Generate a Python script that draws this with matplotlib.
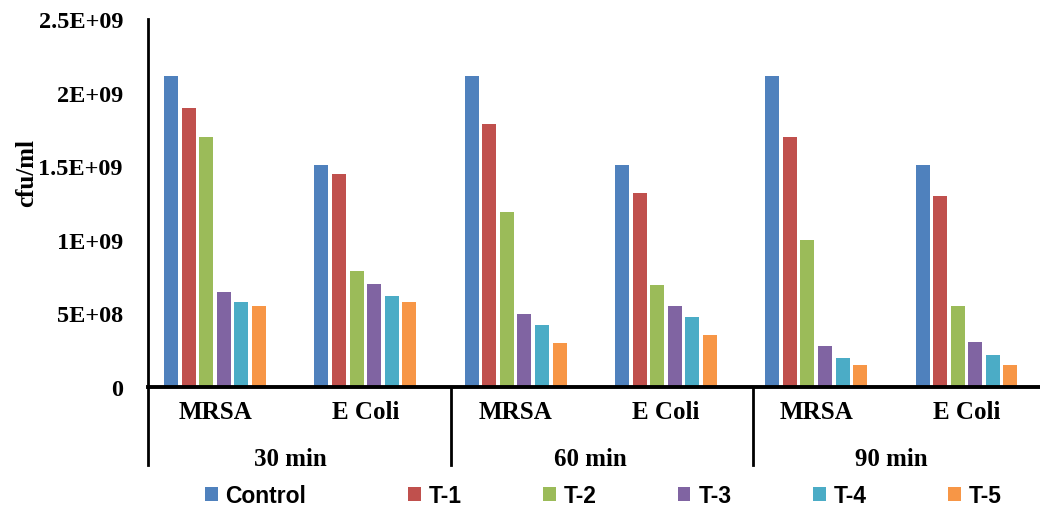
import matplotlib
matplotlib.use("Agg")
import matplotlib.pyplot as plt
import numpy as np
from matplotlib.transforms import blended_transform_factory
from matplotlib.lines import Line2D
from matplotlib.patches import Patch

categories = ["MRSA", "E Coli", "MRSA", "E Coli", "MRSA", "E Coli"]
groups = ["30 min", "60 min", "90 min"]
series_names = ["Control", "T-1", "T-2", "T-3", "T-4", "T-5"]
control = [2.11e9, 1.51e9, 2.11e9, 1.51e9, 2.11e9, 1.51e9]
t1 = [1.895e9, 1.447e9, 1.79e9, 1.318e9, 1.70e9, 1.295e9]
t2 = [1.70e9, 0.79e9, 1.19e9, 0.695e9, 1.0e9, 0.548e9]
t3 = [0.643e9, 0.70e9, 0.496e9, 0.552e9, 0.279e9, 0.308e9]
t4 = [0.58e9, 0.616e9, 0.42e9, 0.473e9, 0.195e9, 0.215e9]
t5 = [0.55e9, 0.58e9, 0.30e9, 0.353e9, 0.149e9, 0.149e9]
yticks = [0, 5e8, 1e9, 1.5e9, 2e9, 2.5e9]
ytick_labels = ["0", "5E+08", "1E+09", "1.5E+09", "2E+09", "2.5E+09"]

colors = ["#4F81BD", "#C0504D", "#9BBB59", "#8064A2", "#4BACC6", "#F79646"]
series = [control, t1, t2, t3, t4, t5]

W, H = 1040, 510
fig = plt.figure(figsize=(W / 100, H / 100), dpi=100)
ax = fig.add_axes([148 / W, (H - 388) / H, (W - 148) / W, (388 - 20) / H])

serif = "Liberation Serif"
x = np.arange(len(categories))
pitch, width = 0.117, 0.093
bars = []
for j, (vals, c) in enumerate(zip(series, colors)):
    bars.append(ax.bar(x + (j - 2.5) * pitch, vals, width=width, color=c,
                       label=series_names[j], zorder=2))

ax.set_xlim(-0.4458, 5.489)
ax.set_ylim(0, 2.5e9)
ax.set_yticks(yticks)
ax.set_yticklabels(ytick_labels, fontfamily=serif, fontweight="bold", fontsize=17.5)
ax.tick_params(axis="y", length=0, pad=18)
ax.set_xticks([])
for s in ["top", "right"]:
    ax.spines[s].set_visible(False)
ax.spines["left"].set_linewidth(2)
ax.spines["bottom"].set_linewidth(2.8)
ax.set_ylabel("cfu/ml", fontfamily=serif, fontweight="bold", fontsize=18)
ax.yaxis.set_label_coords(-0.1233, 0.584)

trans = blended_transform_factory(ax.transData, fig.transFigure)
for i, cat in enumerate(categories):
    ax.text(x[i], (H - 413) / H, cat, transform=trans, ha="center", va="center",
            fontfamily=serif, fontweight="bold", fontsize=18, clip_on=False)
for g, name in enumerate(groups):
    ax.text((x[2 * g] + x[2 * g + 1]) / 2, (H - 460) / H, name, transform=trans, ha="center",
            va="center", fontfamily=serif, fontweight="bold", fontsize=18, clip_on=False)
for sep in [-0.4458, 1.57, 3.58]:
    fig.add_artist(Line2D([sep, sep], [(H - 388) / H, (H - 466) / H], transform=trans,
                          color="black", linewidth=2, clip_on=False))

handles = [Patch(facecolor=c, edgecolor="none") for c in colors]
leg_prop = {"family": "Liberation Sans", "weight": "bold", "size": 16.5}
leg1 = fig.legend(handles[:1], series_names[:1], loc="center left",
                  bbox_to_anchor=(205 / W, (H - 497) / H), ncol=1, frameon=False,
                  handlelength=0.55, handleheight=0.55, handletextpad=0.35, prop=leg_prop,
                  borderpad=0, borderaxespad=0)
leg2 = fig.legend(handles[1:], series_names[1:], loc="center left",
                  bbox_to_anchor=(408 / W, (H - 497) / H), ncol=5, frameon=False,
                  handlelength=0.55, handleheight=0.55, handletextpad=0.35,
                  columnspacing=3.55, prop=leg_prop, borderpad=0, borderaxespad=0)

fig.savefig("out.png", dpi=100)
